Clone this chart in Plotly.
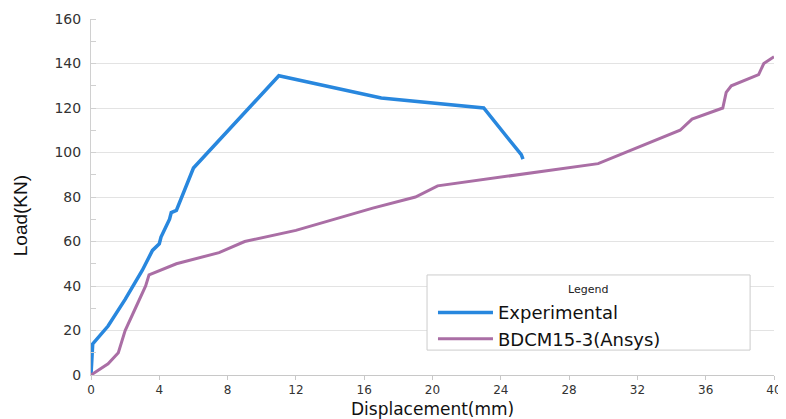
import plotly.graph_objects as go

exp_x = [0, 0.05, 0.1, 1.0, 2.0, 3.0, 3.6, 4.0, 4.1, 4.6, 4.7, 5.0, 5.8, 6.0, 11.0, 17.0, 23.0, 25.2, 25.3]
exp_y = [0, 10, 14, 22, 34, 47, 56, 59, 62, 70, 73, 74, 90, 93, 134.5, 124.5, 120, 99, 97]

ans_x = [0, 1.0, 1.6, 2.0, 2.6, 3.2, 3.4, 5.0, 7.5, 9.0, 12.0, 16.5, 19.0, 20.3, 29.7, 34.5, 35.2, 37.0, 37.2, 37.5, 39.1, 39.4, 40.0]
ans_y = [0, 5, 10, 20, 30, 40, 45, 50, 55, 60, 65, 75, 80, 85, 95, 110, 115, 120, 127, 130, 135, 140, 143]

x_ticks = [0, 4, 8, 12, 16, 20, 24, 28, 32, 36, 40]
y_ticks = [0, 20, 40, 60, 80, 100, 120, 140, 160]

fig = go.Figure()
fig.add_trace(go.Scatter(x=exp_x, y=exp_y, mode="lines", name="Experimental",
                         line=dict(color="rgb(40,135,222)", width=3.5)))
fig.add_trace(go.Scatter(x=ans_x, y=ans_y, mode="lines", name="BDCM15-3(Ansys)",
                         line=dict(color="rgb(170,110,165)", width=3)))

# legend frame and title
fig.add_shape(type="rect", xref="paper", yref="paper", x0=0.492, x1=0.965, y0=0.070, y1=0.281,
              fillcolor="white", line=dict(color="#cccccc", width=1), layer="above")
fig.add_annotation(text="Legend", xref="paper", yref="paper", x=0.728, y=0.239,
                   showarrow=False, xanchor="center", yanchor="middle",
                   font=dict(size=11, family="DejaVu Sans", color="#222"))
# axis titles
fig.add_annotation(text="Displacement(mm)", xref="paper", yref="paper", x=0.5, y=0,
                   yshift=-34, showarrow=False, xanchor="center", yanchor="middle",
                   font=dict(size=17, family="DejaVu Sans", color="#111"))
fig.add_annotation(text="Load(KN)", xref="paper", yref="paper", x=0, y=0.446,
                   xshift=-71, showarrow=False, xanchor="center", yanchor="middle", textangle=-90,
                   font=dict(size=19, family="Liberation Sans", color="#111"))

fig.update_layout(
    width=778, height=411,
    margin=dict(l=83, r=12, t=11, b=44),
    paper_bgcolor="white", plot_bgcolor="white",
    font=dict(family="DejaVu Sans", color="#333"),
    showlegend=True,
    legend=dict(
        x=0.5007, y=0.227, xanchor="left", yanchor="top",
        bgcolor="rgba(0,0,0,0)", borderwidth=0,
        font=dict(size=18, family="DejaVu Sans", color="#111"),
        itemwidth=55, tracegroupgap=0,
    ),
    xaxis=dict(
        range=[0, 40], tickvals=x_ticks, ticktext=[str(v) for v in x_ticks],
        showgrid=False, zeroline=False, showline=True, linecolor="#c8c8c8", linewidth=1,
        ticks="outside", ticklen=4, tickcolor="#c8c8c8", automargin=False,
        tickfont=dict(size=12, color="#333"),
    ),
    yaxis=dict(
        range=[0, 160], tickvals=y_ticks, automargin=False,
        showgrid=True, gridcolor="#e3e3e3", gridwidth=1, zeroline=False,
        showline=True, linecolor="#d0d0d0", linewidth=1,
        ticks="", tickfont=dict(size=14, color="#333"), ticklabelstandoff=6,
        minor=dict(dtick=10, ticks="inside", ticklen=5, tickcolor="#d0d0d0", showgrid=False),
    ),
)

fig.write_html("out.html")
